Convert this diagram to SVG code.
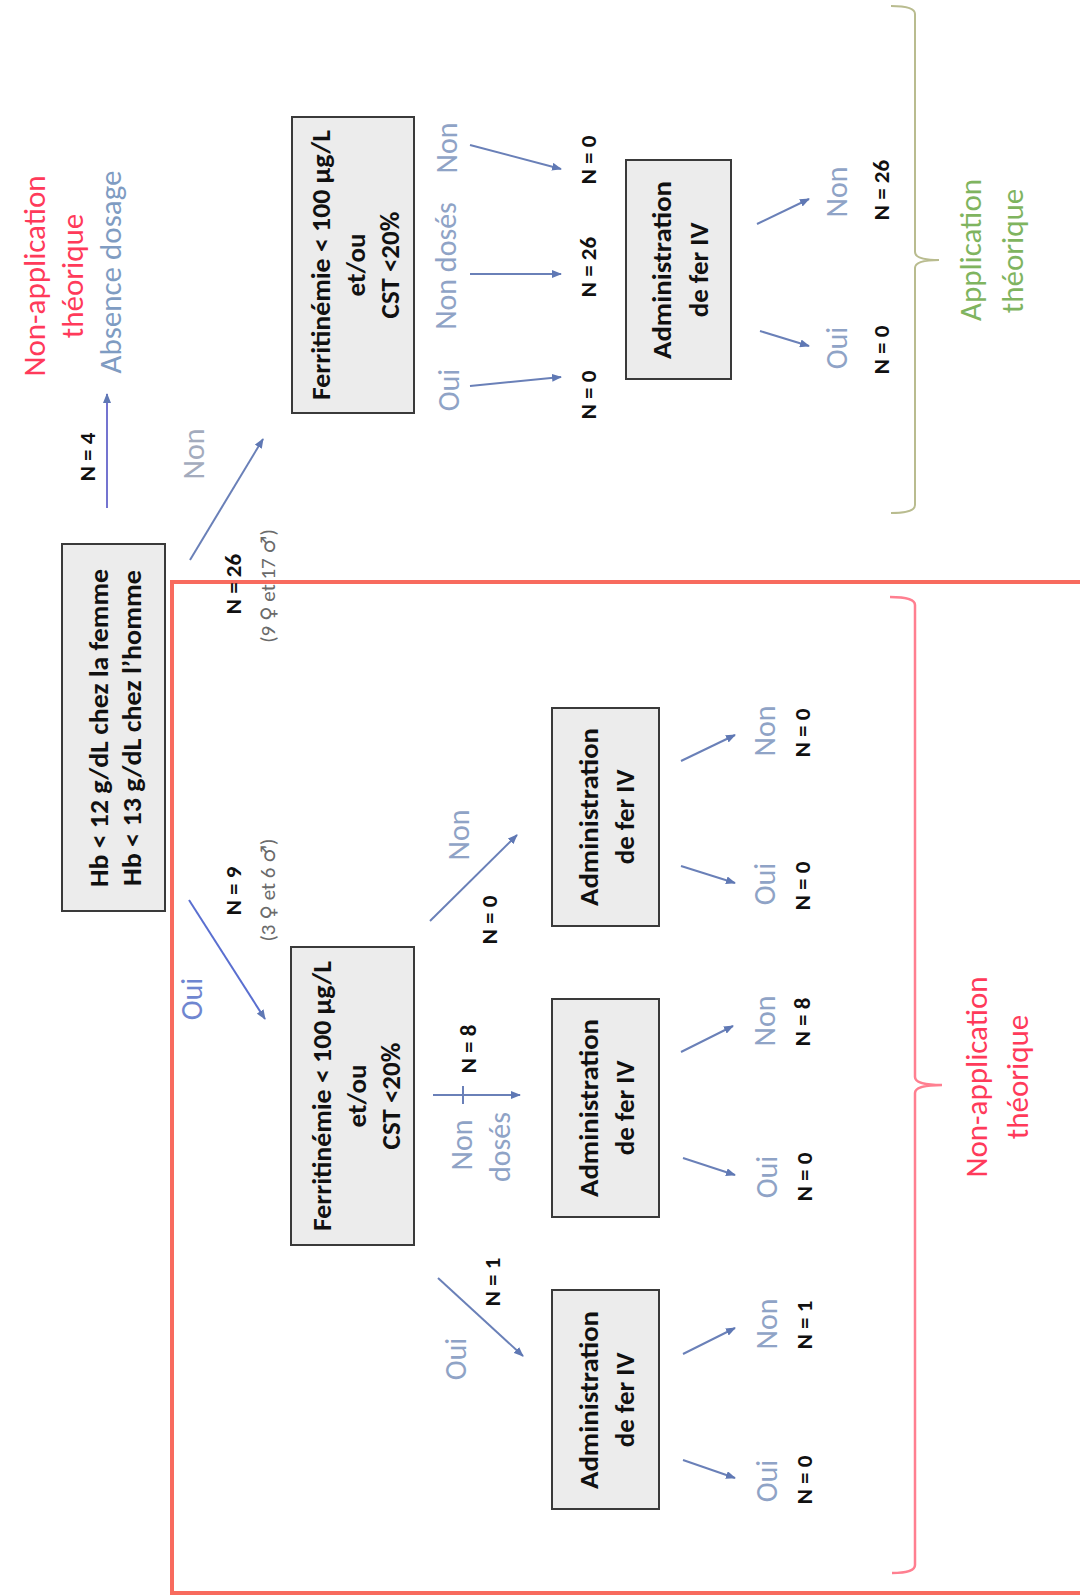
<svg xmlns="http://www.w3.org/2000/svg" width="1080" height="1595" viewBox="0 0 1080 1595">
<defs>
<style>
text{text-anchor:middle;dominant-baseline:central;font-family:Carlito,Lato,"Open Sans",sans-serif}
.bx{fill:#ececec;stroke:#3a3a3a;stroke-width:2}
.bt{font-size:27px;font-weight:bold;fill:#111}
.n{font-size:23px;font-weight:bold;fill:#111}
.lb{font-size:30px;fill:#8fa3c6;font-weight:300}
.sx{font-size:21px;fill:#6a6a6a}
.sym{font-family:"DejaVu Sans",sans-serif;font-size:20px}
.red{font-size:31px;fill:#ff3a5a}
.grn{font-size:31px;fill:#7fb45f;font-weight:300}
.abs{font-size:31px;fill:#7f9cc2;font-weight:300}
.c{fill:none;stroke:#6a80b8;stroke-width:2;marker-end:url(#ah)}
</style>
<marker id="ah" viewBox="0 0 10 8" refX="9" refY="4" markerWidth="10" markerHeight="8" markerUnits="userSpaceOnUse" orient="auto"><path d="M0,0 L10,4 L0,8 z" fill="#5f78b4"/></marker>
</defs>
<rect width="1080" height="1595" fill="#ffffff"/>
<rect x="172" y="582" width="930" height="1011" fill="none" stroke="#f86b5e" stroke-width="4"/>

<g id="connectors">
<line class="c" x1="107" y1="508" x2="107" y2="394" style="stroke:#7474d0"/>
<line class="c" x1="190" y1="560" x2="263" y2="439"/>
<line class="c" x1="189" y1="900" x2="265" y2="1019" style="stroke:#5a6fd0"/>
<line class="c" x1="470" y1="386" x2="561" y2="377"/>
<line class="c" x1="470" y1="274" x2="561" y2="274"/>
<line class="c" x1="470" y1="145" x2="561" y2="169"/>
<line class="c" x1="760" y1="331" x2="809" y2="346"/>
<line class="c" x1="757" y1="224" x2="809" y2="199"/>
<line class="c" x1="430" y1="921" x2="517" y2="835"/>
<line class="c" x1="433" y1="1095" x2="520" y2="1095"/>
<line x1="463" y1="1086" x2="463" y2="1104" stroke="#6a80b8" stroke-width="2"/>
<line class="c" x1="438" y1="1278" x2="523" y2="1356"/>
<line class="c" x1="681" y1="866" x2="735" y2="883"/>
<line class="c" x1="681" y1="761" x2="735" y2="735"/>
<line class="c" x1="683" y1="1158" x2="735" y2="1175"/>
<line class="c" x1="681" y1="1052" x2="733" y2="1026"/>
<line class="c" x1="683" y1="1460" x2="735" y2="1478"/>
<line class="c" x1="683" y1="1354" x2="735" y2="1328"/>
</g>

<g id="hb">
<rect class="bx" x="62" y="544" width="103" height="367"/>
<text class="bt" transform="translate(98,728) rotate(-90)" textLength="318" lengthAdjust="spacingAndGlyphs">Hb &lt; 12 g/dL chez la femme</text>
<text class="bt" transform="translate(131,728) rotate(-90)" textLength="316" lengthAdjust="spacingAndGlyphs">Hb &lt; 13 g/dL chez l’homme</text>
</g>

<g id="ferr1">
<rect class="bx" x="292" y="117" width="122" height="296"/>
<text class="bt" transform="translate(320,265) rotate(-90)" textLength="270" lengthAdjust="spacingAndGlyphs">Ferritinémie &lt; 100 µg/L</text>
<text class="bt" transform="translate(355,265) rotate(-90)">et/ou</text>
<text class="bt" transform="translate(389,265) rotate(-90)">CST &lt;20%</text>
</g>

<g id="ferr2">
<rect class="bx" x="291" y="947" width="123" height="298"/>
<text class="bt" transform="translate(321,1096) rotate(-90)" textLength="270" lengthAdjust="spacingAndGlyphs">Ferritinémie &lt; 100 µg/L</text>
<text class="bt" transform="translate(356,1096) rotate(-90)">et/ou</text>
<text class="bt" transform="translate(390,1096) rotate(-90)">CST &lt;20%</text>
</g>

<g id="admin0">
<rect class="bx" x="626" y="160" width="105" height="219"/>
<text class="bt" transform="translate(661,270) rotate(-90)" textLength="178" lengthAdjust="spacingAndGlyphs">Administration</text>
<text class="bt" transform="translate(698,270) rotate(-90)">de fer IV</text>
</g>
<g id="admin1">
<rect class="bx" x="552" y="708" width="107" height="218"/>
<text class="bt" transform="translate(588,817) rotate(-90)" textLength="178" lengthAdjust="spacingAndGlyphs">Administration</text>
<text class="bt" transform="translate(624,817) rotate(-90)">de fer IV</text>
</g>
<g id="admin2">
<rect class="bx" x="552" y="999" width="107" height="218"/>
<text class="bt" transform="translate(588,1108) rotate(-90)" textLength="178" lengthAdjust="spacingAndGlyphs">Administration</text>
<text class="bt" transform="translate(624,1108) rotate(-90)">de fer IV</text>
</g>
<g id="admin3">
<rect class="bx" x="552" y="1290" width="107" height="219"/>
<text class="bt" transform="translate(588,1400) rotate(-90)" textLength="178" lengthAdjust="spacingAndGlyphs">Administration</text>
<text class="bt" transform="translate(624,1400) rotate(-90)">de fer IV</text>
</g>

<g id="absence">
<text class="red" transform="translate(34,276) rotate(-90)">Non-application</text>
<text class="red" transform="translate(72,276) rotate(-90)">théorique</text>
<text class="abs" transform="translate(110,272) rotate(-90)">Absence dosage</text>
<text class="n" transform="translate(87,457) rotate(-90)">N = 4</text>
</g>

<g id="labels">
<text class="lb" transform="translate(193,454) rotate(-90)" style="fill:#a3abbd">Non</text>
<text class="n" transform="translate(233,584) rotate(-90)">N = 26</text>
<text class="sx" transform="translate(268,586) rotate(-90)">(9 <tspan class="sym">♀</tspan> et 17 <tspan class="sym">♂</tspan>)</text>
<text class="lb" transform="translate(191,999) rotate(-90)" style="fill:#6f86d0">Oui</text>
<text class="n" transform="translate(233,891) rotate(-90)">N = 9</text>
<text class="sx" transform="translate(268,890) rotate(-90)">(3 <tspan class="sym">♀</tspan> et 6 <tspan class="sym">♂</tspan>)</text>

<text class="lb" transform="translate(448,390) rotate(-90)">Oui</text>
<text class="lb" transform="translate(445,266) rotate(-90)">Non dosés</text>
<text class="lb" transform="translate(446,148) rotate(-90)">Non</text>
<text class="n" transform="translate(588,395) rotate(-90)">N = 0</text>
<text class="n" transform="translate(588,267) rotate(-90)">N = 26</text>
<text class="n" transform="translate(588,160) rotate(-90)">N = 0</text>
<text class="lb" transform="translate(836,348) rotate(-90)">Oui</text>
<text class="n" transform="translate(881,350) rotate(-90)">N = 0</text>
<text class="lb" transform="translate(836,192) rotate(-90)">Non</text>
<text class="n" transform="translate(881,190) rotate(-90)">N = 26</text>

<text class="lb" transform="translate(458,835) rotate(-90)">Non</text>
<text class="n" transform="translate(489,920) rotate(-90)">N = 0</text>
<text class="lb" transform="translate(461,1145) rotate(-90)">Non</text>
<text class="lb" transform="translate(499,1147) rotate(-90)">dosés</text>
<text class="n" transform="translate(468,1049) rotate(-90)">N = 8</text>
<text class="lb" transform="translate(455,1359) rotate(-90)">Oui</text>
<text class="n" transform="translate(492,1282) rotate(-90)">N = 1</text>

<text class="lb" transform="translate(764,884) rotate(-90)">Oui</text>
<text class="n" transform="translate(802,886) rotate(-90)">N = 0</text>
<text class="lb" transform="translate(764,731) rotate(-90)">Non</text>
<text class="n" transform="translate(802,733) rotate(-90)">N = 0</text>
<text class="lb" transform="translate(766,1177) rotate(-90)">Oui</text>
<text class="n" transform="translate(804,1177) rotate(-90)">N = 0</text>
<text class="lb" transform="translate(764,1021) rotate(-90)">Non</text>
<text class="n" transform="translate(802,1022) rotate(-90)">N = 8</text>
<text class="lb" transform="translate(766,1481) rotate(-90)">Oui</text>
<text class="n" transform="translate(804,1480) rotate(-90)">N = 0</text>
<text class="lb" transform="translate(766,1324) rotate(-90)">Non</text>
<text class="n" transform="translate(804,1325) rotate(-90)">N = 1</text>
</g>

<g id="bracket-application">
<path d="M891,6 Q915,6 915,14 L915,252 Q915,260 939,260 Q915,260 915,268 L915,505 Q915,513 891,513" fill="none" stroke="#b9bc8f" stroke-width="2"/>
<text class="grn" transform="translate(970,250) rotate(-90)">Application</text>
<text class="grn" transform="translate(1012,251) rotate(-90)">théorique</text>
</g>

<g id="bracket-non-application">
<path d="M890,597 Q915,597 915,605 L915,1077 Q915,1085 942,1085 Q915,1085 915,1093 L915,1565 Q915,1573 892,1573" fill="none" stroke="#ff7f90" stroke-width="2.5"/>
<text class="red" transform="translate(976,1077) rotate(-90)">Non-application</text>
<text class="red" transform="translate(1017,1077) rotate(-90)">théorique</text>
</g>
</svg>
